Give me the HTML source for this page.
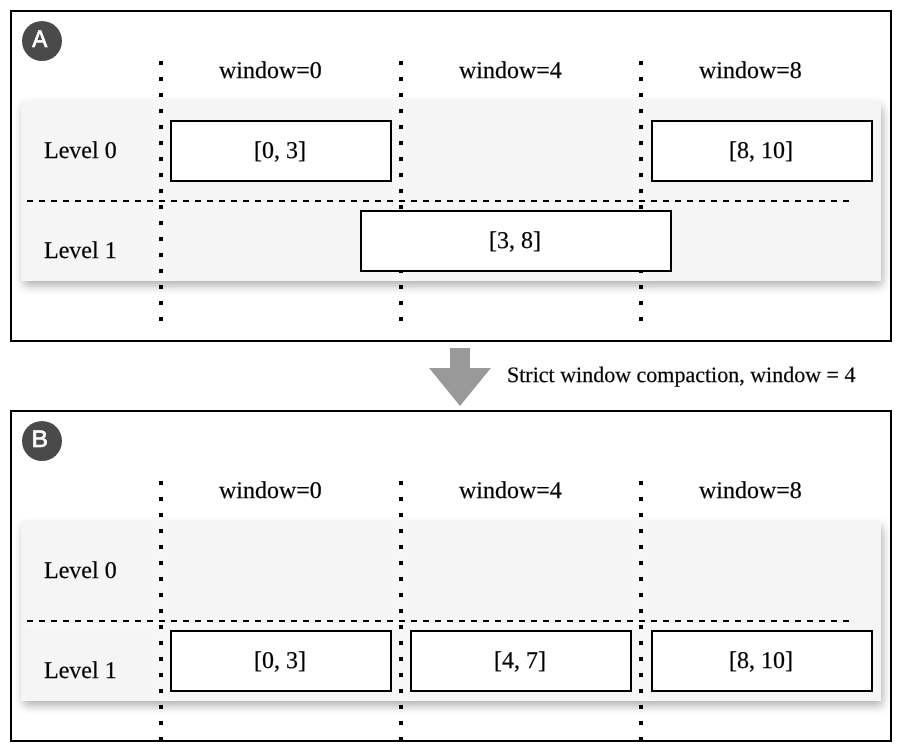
<!DOCTYPE html>
<html>
<head>
<meta charset="utf-8">
<style>
*{margin:0;padding:0;box-sizing:border-box}
html,body{width:906px;height:756px;background:#fff;overflow:hidden}
body{position:relative;font-family:"Liberation Serif",serif;color:#000}
.abs{position:absolute}
.frame{position:absolute;left:10px;width:882px;height:332px;border:2px solid #000}
.circ{position:absolute;left:21.6px;width:40px;height:40px;border-radius:50%;background:#4a4a4a;color:#fff;font-family:"Liberation Sans",sans-serif;font-size:24px;line-height:38.2px;text-align:center;-webkit-text-stroke:0.7px #fff;text-indent:-2.3px;text-rendering:geometricPrecision;will-change:transform}
.panel{position:absolute;left:21px;width:860px;height:180px;background:#f5f5f5;box-shadow:2px 5px 9px rgba(0,0,0,0.3)}
.dash{position:absolute;left:27px;width:822px;height:2px;background:repeating-linear-gradient(to right,#000 0 6px,transparent 6px 12px)}
.circ span{display:inline-block;transform:scaleX(0.94)}
.band{position:absolute;width:16px;height:180px;background:rgba(255,255,255,0.25)}
.dot{position:absolute;width:4px;height:260px;background:repeating-linear-gradient(to bottom,#000 0 4px,transparent 4px 16px)}
.box{position:absolute;height:62px;background:#fff;border:2px solid #000;font-size:24px;line-height:58px;text-align:center;white-space:nowrap}
.t{position:absolute;font-size:24px;line-height:28px;white-space:nowrap;-webkit-text-stroke:0.25px #000;text-rendering:geometricPrecision;will-change:transform}
.box span{display:inline-block;-webkit-text-stroke:0.25px #000;position:relative;top:-1px;left:-1.5px;text-rendering:geometricPrecision;will-change:transform}
</style>
</head>
<body>
<!-- Frame A -->
<div class="frame" style="top:10px"></div>
<div class="circ" style="top:20.8px"><span>A</span></div>
<div class="panel" style="top:101px"></div>
<div class="band" style="left:153px;top:101px"></div>
<div class="band" style="left:393px;top:101px"></div>
<div class="band" style="left:633px;top:101px"></div>
<div class="band" style="left:27px;top:203px;width:822px;height:5px"></div>
<div class="dash" style="top:200px"></div>
<div class="dot" style="left:159px;top:61px"></div>
<div class="dot" style="left:399px;top:61px"></div>
<div class="dot" style="left:639px;top:61px"></div>
<div class="t" style="left:218.5px;top:57px">window=0</div>
<div class="t" style="left:458.5px;top:57px">window=4</div>
<div class="t" style="left:698.5px;top:57px">window=8</div>
<div class="t" style="left:43.7px;top:137px">Level 0</div>
<div class="t" style="left:43.7px;top:237px">Level 1</div>
<div class="box" style="left:170px;top:120px;width:222px"><span>[0, 3]</span></div>
<div class="box" style="left:651px;top:120px;width:222px"><span>[8, 10]</span></div>
<div class="box" style="left:360px;top:210px;width:312px"><span>[3, 8]</span></div>

<!-- Arrow -->
<svg class="abs" style="left:0;top:0" width="906" height="756">
<polygon points="450,348 470,348 470,368 491,368 460,406 429,368 450,368" fill="#999"/>
</svg>
<div class="t" style="left:507px;top:361px;font-size:22px">Strict window compaction, window = 4</div>

<!-- Frame B -->
<div class="frame" style="top:410px"></div>
<div class="circ" style="top:420.8px"><span style="transform:scaleX(1.03);margin-left:1px">B</span></div>
<div class="panel" style="top:521px"></div>
<div class="band" style="left:153px;top:521px"></div>
<div class="band" style="left:393px;top:521px"></div>
<div class="band" style="left:633px;top:521px"></div>
<div class="band" style="left:27px;top:623px;width:822px;height:5px"></div>
<div class="dash" style="top:620px"></div>
<div class="dot" style="left:159px;top:481px"></div>
<div class="dot" style="left:399px;top:481px"></div>
<div class="dot" style="left:639px;top:481px"></div>
<div class="t" style="left:218.5px;top:477px">window=0</div>
<div class="t" style="left:458.5px;top:477px">window=4</div>
<div class="t" style="left:698.5px;top:477px">window=8</div>
<div class="t" style="left:43.7px;top:557px">Level 0</div>
<div class="t" style="left:43.7px;top:657px">Level 1</div>
<div class="box" style="left:170px;top:630px;width:222px"><span>[0, 3]</span></div>
<div class="box" style="left:410px;top:630px;width:222px"><span>[4, 7]</span></div>
<div class="box" style="left:651px;top:630px;width:222px"><span>[8, 10]</span></div>
</body>
</html>
